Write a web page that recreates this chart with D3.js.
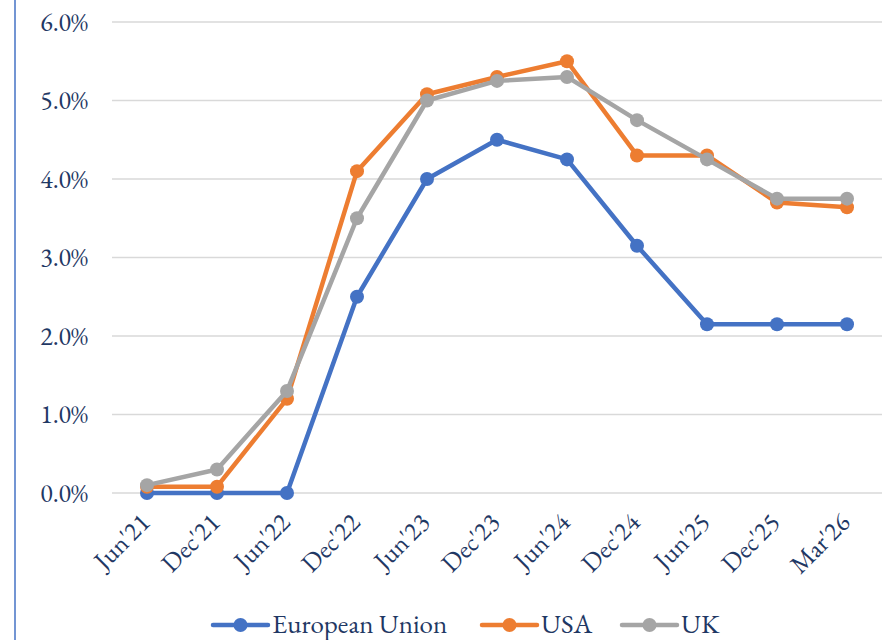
<!DOCTYPE html>
<html>
<head>
<meta charset="utf-8">
<script src="https://cdn.jsdelivr.net/npm/d3@7"></script>
<style>
  body { margin: 0; background: #fff; }
</style>
</head>
<body>
<div class="chart"></div>
<script>
const categories = ["Jun'21", "Dec'21", "Jun'22", "Dec'22", "Jun'23", "Dec'23", "Jun'24", "Dec'24", "Jun'25", "Dec'25", "Mar'26"];
const euValues = [0, 0, 0, 2.5, 4.0, 4.5, 4.25, 3.15, 2.15, 2.15, 2.15];
const usaValues = [0.08, 0.08, 1.2, 4.1, 5.08, 5.3, 5.5, 4.3, 4.3, 3.7, 3.64];
const ukValues = [0.1, 0.3, 1.3, 3.5, 5.0, 5.25, 5.3, 4.75, 4.25, 3.75, 3.75];
const yTicks = [0, 1, 2, 3, 4, 5, 6];

const series = [
  { name: "European Union", values: euValues, color: "#4472C4" },
  { name: "USA", values: usaValues, color: "#ED7D31" },
  { name: "UK", values: ukValues, color: "#A5A5A5" },
];

const width = 883, height = 640;
const margin = { top: 22, right: 1, bottom: 147, left: 112 };
const textColor = "#1F3864";
const fontFamily = "'EB Garamond', 'Liberation Serif', serif";

const svg = d3.select(".chart").append("svg")
  .attr("width", width)
  .attr("height", height);

// left border line
svg.append("line")
  .attr("x1", 15).attr("x2", 15)
  .attr("y1", 0).attr("y2", height)
  .style("stroke", "#4472C4")
  .style("stroke-width", 1.5);

const x = d3.scalePoint()
  .domain(categories)
  .range([margin.left, width - margin.right])
  .padding(0.5);

const y = d3.scaleLinear()
  .domain([0, 6])
  .range([height - margin.bottom, margin.top]);

// gridlines
svg.append("g")
  .selectAll("line")
  .data(yTicks)
  .enter().append("line")
  .attr("x1", margin.left)
  .attr("x2", width - margin.right)
  .attr("y1", d => y(d))
  .attr("y2", d => y(d))
  .style("stroke", "#D9D9D9")
  .style("stroke-width", 1.5);

// y axis labels
const yAxis = d3.axisLeft(y)
  .tickValues(yTicks)
  .tickFormat(d => d.toFixed(1) + "%")
  .tickSize(0)
  .tickPadding(0);

const yAxisG = svg.append("g")
  .attr("transform", `translate(88,0)`)
  .call(yAxis);
yAxisG.select(".domain").remove();
yAxisG.selectAll("text")
  .style("font-family", fontFamily)
  .style("font-size", "26px")
  .style("fill", textColor);

// x axis labels
const xAxis = d3.axisBottom(x).tickSize(0).tickPadding(0);
const xAxisG = svg.append("g")
  .attr("transform", `translate(0,${height - margin.bottom})`)
  .call(xAxis);
xAxisG.select(".domain").remove();
xAxisG.selectAll("text")
  .style("font-family", fontFamily)
  .style("font-size", "26px")
  .style("fill", textColor)
  .attr("text-anchor", "end")
  .attr("dy", null)
  .attr("y", 0)
  .attr("transform", "translate(4,31) rotate(-45)");

// lines and markers
const line = d3.line()
  .x((d, i) => x(categories[i]))
  .y(d => y(d));

series.forEach(s => {
  const g = svg.append("g");
  g.append("path")
    .datum(s.values)
    .attr("d", line)
    .style("fill", "none")
    .style("stroke", s.color)
    .style("stroke-width", 4.5)
    .style("stroke-linejoin", "round");
  g.selectAll("circle")
    .data(s.values)
    .enter().append("circle")
    .attr("cx", (d, i) => x(categories[i]))
    .attr("cy", d => y(d))
    .attr("r", 7)
    .style("fill", s.color);
});

// legend
const legendX = [213, 482, 622];
const legendY = 625;
const legend = svg.append("g");
series.forEach((s, i) => {
  const lg = legend.append("g").attr("transform", `translate(${legendX[i]},${legendY})`);
  lg.append("line")
    .attr("x1", 0).attr("x2", 55)
    .attr("y1", 0).attr("y2", 0)
    .style("stroke", s.color)
    .style("stroke-width", 4.5)
    .style("stroke-linecap", "round");
  lg.append("circle")
    .attr("cx", 27.5).attr("cy", 0).attr("r", 7)
    .style("fill", s.color);
  lg.append("text")
    .attr("x", 59).attr("y", 8)
    .style("font-family", fontFamily)
    .style("font-size", "27px")
    .style("fill", textColor)
    .text(s.name);
});
</script>
</body>
</html>
